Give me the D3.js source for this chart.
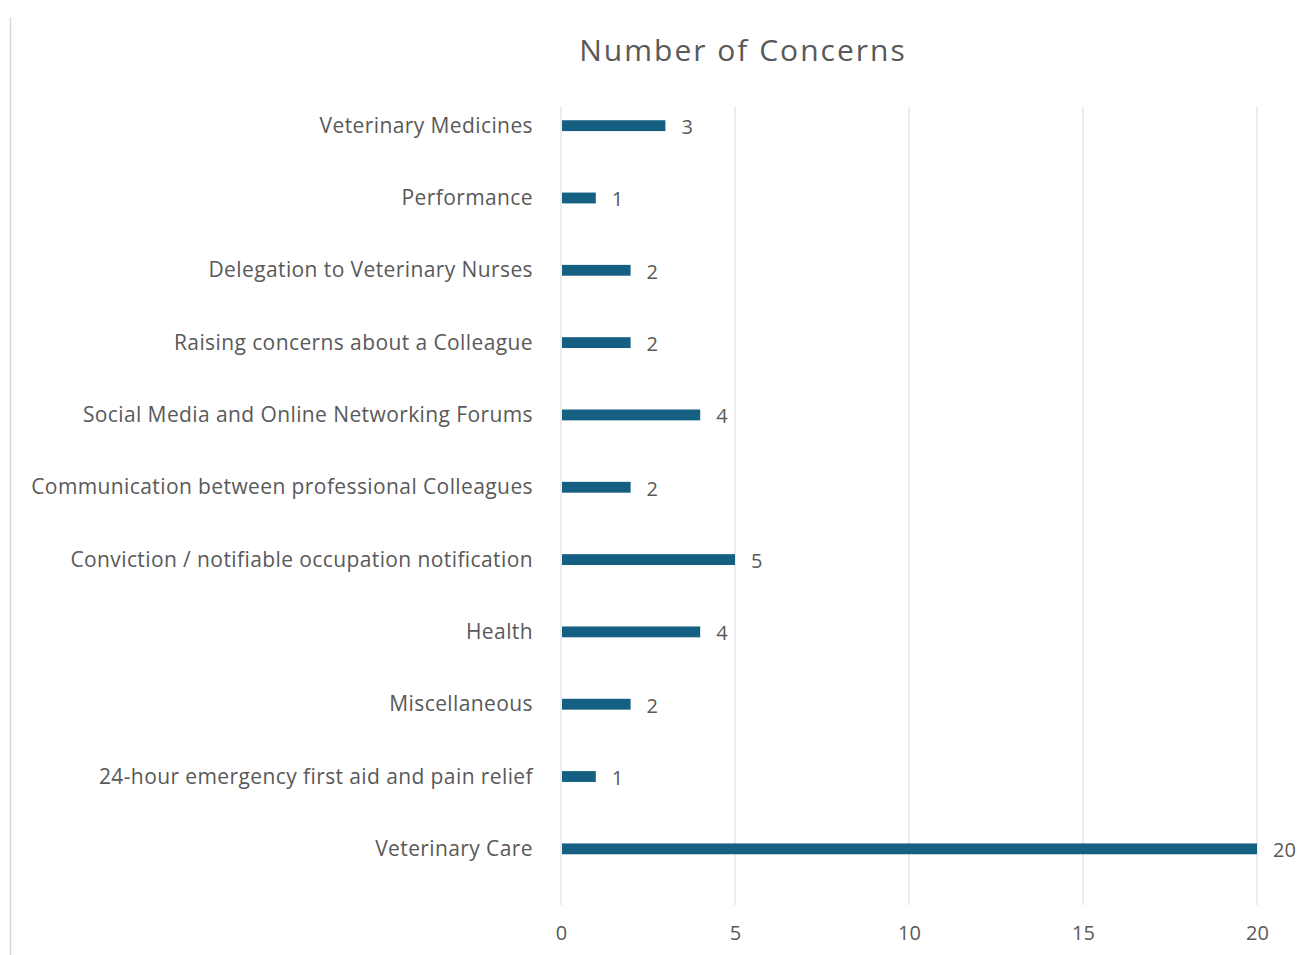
<!DOCTYPE html>
<html>
<head>
<meta charset="utf-8">
<script src="https://cdn.jsdelivr.net/npm/d3@7"></script>
<style>
  body { margin: 0; background: #fff; }
  text { font-family: "Open Sans", Roboto, sans-serif; fill: #595959; }
</style>
</head>
<body>
<div id="chart"></div>
<script>
// chart data
const categories = [
  "Veterinary Medicines",
  "Performance",
  "Delegation to Veterinary Nurses",
  "Raising concerns about a Colleague",
  "Social Media and Online Networking Forums",
  "Communication between professional Colleagues",
  "Conviction / notifiable occupation notification",
  "Health",
  "Miscellaneous",
  "24-hour emergency first aid and pain relief",
  "Veterinary Care"
];
const values = [3, 1, 2, 2, 4, 2, 5, 4, 2, 1, 20];
const xTicks = [0, 5, 10, 15, 20];
const title = "Number of Concerns";

const width = 1303, height = 955;
const plot = {left: 561, right: 1257, top: 107, bottom: 905};

const svg = d3.select("#chart")
  .append("svg")
  .attr("width", width)
  .attr("height", height);

// faint frame line on the left
svg.append("line")
  .attr("x1", 10.5).attr("x2", 10.5)
  .attr("y1", 17).attr("y2", height)
  .attr("stroke", "#d9d9d9")
  .attr("stroke-width", 1.5);

const x = d3.scaleLinear()
  .domain([0, 20])
  .range([plot.left, plot.right]);

const y = d3.scaleBand()
  .domain(categories)
  .range([89.5, 885])
  .paddingInner(0.85)
  .paddingOuter(0.425);

// gridlines
svg.append("g")
  .selectAll("line")
  .data(xTicks)
  .join("line")
  .attr("x1", d => x(d)).attr("x2", d => x(d))
  .attr("y1", plot.top).attr("y2", plot.bottom)
  .attr("stroke", "#d9d9d9")
  .attr("stroke-width", 1);

// x axis labels
const xAxis = svg.append("g")
  .attr("transform", `translate(0,${plot.bottom})`)
  .call(d3.axisBottom(x).tickValues(xTicks).tickSize(0).tickPadding(21));
xAxis.select(".domain").remove();
xAxis.selectAll("text")
  .style("font-size", "20px")
  .attr("fill", "#595959")
  .attr("font-family", "Open Sans, Roboto, sans-serif");

// category labels
svg.append("g")
  .selectAll("text")
  .data(categories)
  .join("text")
  .attr("x", 533)
  .attr("y", d => y(d) + y.bandwidth() / 2 - 1)
  .attr("text-anchor", "end")
  .attr("dominant-baseline", "central")
  .style("font-size", "21px")
  .style("letter-spacing", "0.4px")
  .text(d => d);

// bars
svg.append("g")
  .selectAll("rect")
  .data(values)
  .join("rect")
  .attr("x", x(0) + 1)
  .attr("y", (d, i) => y(categories[i]))
  .attr("width", d => x(d) - x(0) - 1)
  .attr("height", y.bandwidth())
  .attr("fill", "#156082");

// value labels
svg.append("g")
  .selectAll("text")
  .data(values)
  .join("text")
  .attr("x", d => x(d) + 16)
  .attr("y", (d, i) => y(categories[i]) + y.bandwidth() / 2 + 1)
  .attr("dominant-baseline", "central")
  .style("font-size", "20px")
  .text(d => d);

// title
svg.append("text")
  .attr("x", 743)
  .attr("y", 49)
  .attr("text-anchor", "middle")
  .attr("dominant-baseline", "central")
  .style("font-size", "30px")
  .style("letter-spacing", "2px")
  .text(title);
</script>
</body>
</html>
